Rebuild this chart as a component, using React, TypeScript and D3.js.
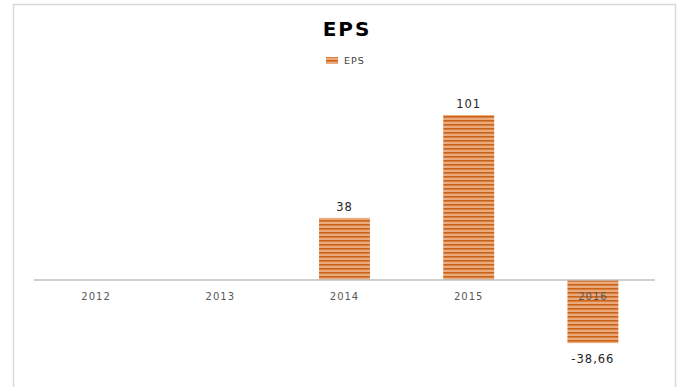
import React, { useEffect, useRef } from 'react';
import * as d3 from 'd3';

const categories = ['2012', '2013', '2014', '2015', '2016'];
const epsValues: (number | null)[] = [null, null, 38, 101, -38.66];
const valueLabels = ['', '', '38', '101', '-38,66'];

const width = 679;
const height = 387;

const App: React.FC = () => {
  const svgRef = useRef<SVGSVGElement>(null);

  useEffect(() => {
    if (!svgRef.current) return;
    const svg = d3.select(svgRef.current);
    svg.selectAll('*').remove();

    const margin = { left: 34, right: 24 };
    const x = d3.scaleBand()
      .domain(categories)
      .range([margin.left, width - margin.right])
      .paddingInner(0.59)
      .paddingOuter(0.295);

    // zero at y=280, 101 -> 115
    const y = d3.scaleLinear().domain([-60, 120]).range([378, 84]);

    // motif rayé horizontal
    const defs = svg.append('defs');
    const pat = defs.append('pattern')
      .attr('id', 'stripes')
      .attr('patternUnits', 'userSpaceOnUse')
      .attr('width', 8).attr('height', 4);
    pat.append('rect').attr('width', 8).attr('height', 4).attr('fill', '#ebaa7c');
    pat.append('rect').attr('y', 0).attr('width', 8).attr('height', 1.6).attr('fill', '#c96318');

    // cadre
    svg.append('rect')
      .attr('x', 13.5).attr('y', 4.5)
      .attr('width', 662).attr('height', 400)
      .attr('fill', '#fff')
      .attr('stroke', '#d9d9d9')
      .attr('stroke-width', 1.5);

    // titre
    svg.append('text')
      .attr('x', 347).attr('y', 36)
      .attr('text-anchor', 'middle')
      .attr('font-family', 'DejaVu Sans')
      .attr('font-weight', 'bold')
      .attr('font-size', 20)
      .attr('letter-spacing', 2)
      .attr('fill', '#000')
      .text('EPS');

    // légende
    svg.append('rect')
      .attr('x', 326).attr('y', 57).attr('width', 12).attr('height', 7)
      .attr('fill', 'url(#stripes)');
    svg.append('text')
      .attr('x', 344).attr('y', 64)
      .attr('font-family', 'DejaVu Sans')
      .attr('font-size', 9.5)
      .attr('letter-spacing', 1)
      .attr('fill', '#404040')
      .text('EPS');

    // barres
    const data = categories.map((c, i) => ({ c, v: epsValues[i], label: valueLabels[i] }));
    svg.append('g').selectAll('rect')
      .data(data.filter(d => d.v !== null))
      .enter().append('rect')
      .attr('x', d => x(d.c)!)
      .attr('width', x.bandwidth())
      .attr('y', d => Math.min(y(d.v as number), y(0)))
      .attr('height', d => Math.abs(y(d.v as number) - y(0)))
      .attr('fill', 'url(#stripes)');

    // axe
    svg.append('line')
      .attr('x1', margin.left).attr('x2', width - margin.right)
      .attr('y1', y(0)).attr('y2', y(0))
      .attr('stroke', '#bfbfbf').attr('stroke-width', 1.5);

    svg.append('g').selectAll('text')
      .data(categories)
      .enter().append('text')
      .attr('x', d => x(d)! + x.bandwidth() / 2)
      .attr('y', y(0) + 20)
      .attr('text-anchor', 'middle')
      .attr('font-family', 'DejaVu Sans')
      .attr('font-size', 10)
      .attr('letter-spacing', 1)
      .attr('fill', '#595959')
      .text(d => d);

    // étiquettes de valeurs
    svg.append('g').selectAll('text')
      .data(data.filter(d => d.v !== null))
      .enter().append('text')
      .attr('x', d => x(d.c)! + x.bandwidth() / 2)
      .attr('y', d => (d.v as number) >= 0 ? y(d.v as number) - 7 : y(d.v as number) + 20)
      .attr('text-anchor', 'middle')
      .attr('font-family', 'DejaVu Sans')
      .attr('font-size', 11.5)
      .attr('letter-spacing', 1)
      .attr('fill', '#262626')
      .text(d => d.label);
  }, []);

  return (
    <svg
      ref={svgRef}
      width={width}
      height={height}
      style={{ position: 'absolute', left: 0, top: 0, background: '#fff' }}
    />
  );
};

export default App;
